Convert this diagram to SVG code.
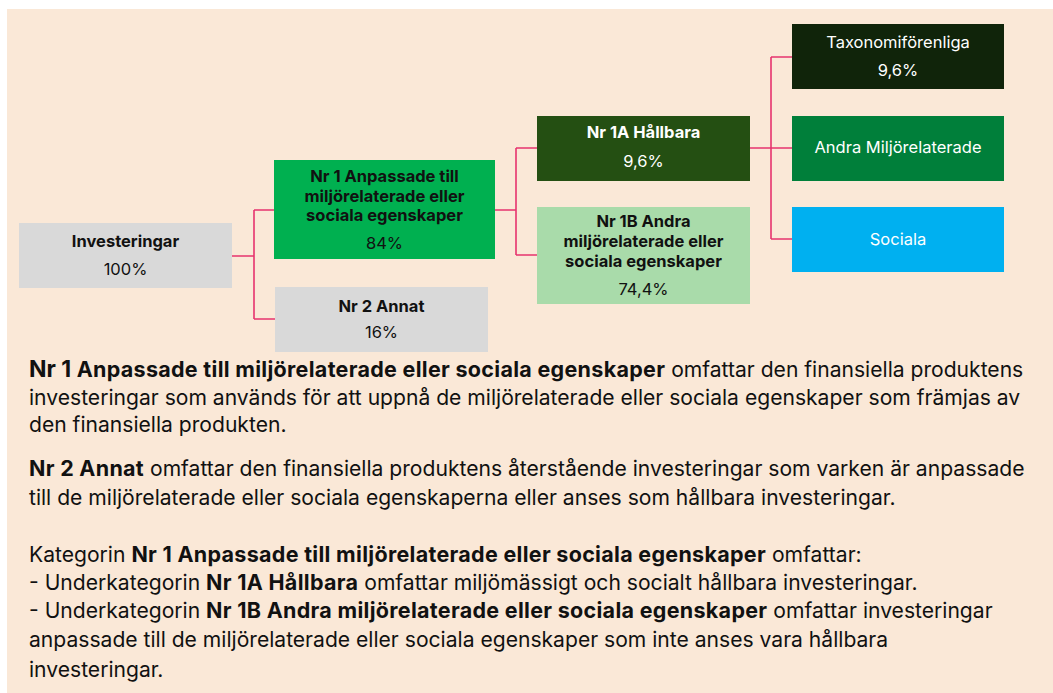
<svg xmlns="http://www.w3.org/2000/svg" width="1053" height="693" viewBox="0 0 1053 693">
<style>
.n{font-family:Inter,"Liberation Sans",Arial,sans-serif;font-size:16.5px;text-anchor:middle;fill:#111}
.b{font-weight:bold}
.w{fill:#fff}
.t{font-family:Inter,"Liberation Sans",Arial,sans-serif;font-size:21.1px;fill:#111}
.t .b{font-size:21.5px;letter-spacing:0.3px}
.c{fill:none;stroke:#e6336f;stroke-width:1.6}
</style>
<rect x="0" y="0" width="1053" height="693" fill="#fff"/>
<rect x="7" y="9" width="1046" height="684" fill="#fae8d7"/>
<g id="connectors">
<path class="c" d="M232 256H254M254 210V319M254 210H274M254 319H275"/>
<path class="c" d="M495 210H516M516 148V255M516 148H537M516 255H537"/>
<path class="c" d="M750 148H792M771 57V239M771 57H792M771 239H792"/>
</g>
<g id="investeringar">
<rect x="19" y="223" width="213" height="65" fill="#d9d9d9"/>
<text class="n b" x="125.5" y="247">Investeringar</text>
<text class="n" x="125.5" y="275">100%</text>
</g>
<g id="nr1">
<rect x="274" y="160" width="221" height="99" fill="#00b050"/>
<text class="n b" x="384.5" y="182">Nr 1 Anpassade till</text>
<text class="n b" x="384.5" y="202">miljörelaterade eller</text>
<text class="n b" x="384.5" y="221">sociala egenskaper</text>
<text class="n" x="384.5" y="249">84%</text>
</g>
<g id="nr2">
<rect x="275" y="287" width="213" height="65" fill="#d9d9d9"/>
<text class="n b" x="381.5" y="312">Nr 2 Annat</text>
<text class="n" x="381.5" y="338">16%</text>
</g>
<g id="nr1a">
<rect x="537" y="116" width="213" height="65" fill="#244f12"/>
<text class="n b w" x="643.5" y="138">Nr 1A Hållbara</text>
<text class="n w" x="643.5" y="167">9,6%</text>
</g>
<g id="nr1b">
<rect x="537" y="207" width="213" height="97" fill="#a9dbaa"/>
<text class="n b" x="643.5" y="227">Nr 1B Andra</text>
<text class="n b" x="643.5" y="247">miljörelaterade eller</text>
<text class="n b" x="643.5" y="267">sociala egenskaper</text>
<text class="n" x="643.5" y="295">74,4%</text>
</g>
<g id="taxonomi">
<rect x="792" y="24" width="212" height="65" fill="#10240a"/>
<text class="n w" x="898" y="48">Taxonomiförenliga</text>
<text class="n w" x="898" y="76">9,6%</text>
</g>
<g id="andra">
<rect x="792" y="116" width="212" height="65" fill="#007f3a"/>
<text class="n w" x="898" y="153">Andra Miljörelaterade</text>
</g>
<g id="sociala">
<rect x="792" y="207" width="212" height="65" fill="#00b0f0"/>
<text class="n w" x="898" y="245">Sociala</text>
</g>
<g id="text">
<text class="t" x="29" y="377"><tspan class="b" style="font-size:23px;letter-spacing:0">Nr 1</tspan><tspan class="b"> Anpassade till miljörelaterade eller sociala egenskaper</tspan> omfattar den finansiella produktens</text>
<text class="t" x="29" y="405">investeringar som används för att uppnå de miljörelaterade eller sociala egenskaper som främjas av</text>
<text class="t" x="29" y="432">den finansiella produkten.</text>
<text class="t" x="29" y="476"><tspan class="b">Nr 2 Annat</tspan> omfattar den finansiella produktens återstående investeringar som varken är anpassade</text>
<text class="t" x="29" y="505">till de miljörelaterade eller sociala egenskaperna eller anses som hållbara investeringar.</text>
<text class="t" x="29" y="562">Kategorin <tspan class="b">Nr 1 Anpassade till miljörelaterade eller sociala egenskaper</tspan> omfattar:</text>
<text class="t" x="29" y="590">- Underkategorin <tspan class="b">Nr 1A Hållbara</tspan> omfattar miljömässigt och socialt hållbara investeringar.</text>
<text class="t" x="29" y="618">- Underkategorin <tspan class="b">Nr 1B Andra miljörelaterade eller sociala egenskaper</tspan> omfattar investeringar</text>
<text class="t" x="29" y="647">anpassade till de miljörelaterade eller sociala egenskaper som inte anses vara hållbara</text>
<text class="t" x="29" y="677">investeringar.</text>
</g>
</svg>
